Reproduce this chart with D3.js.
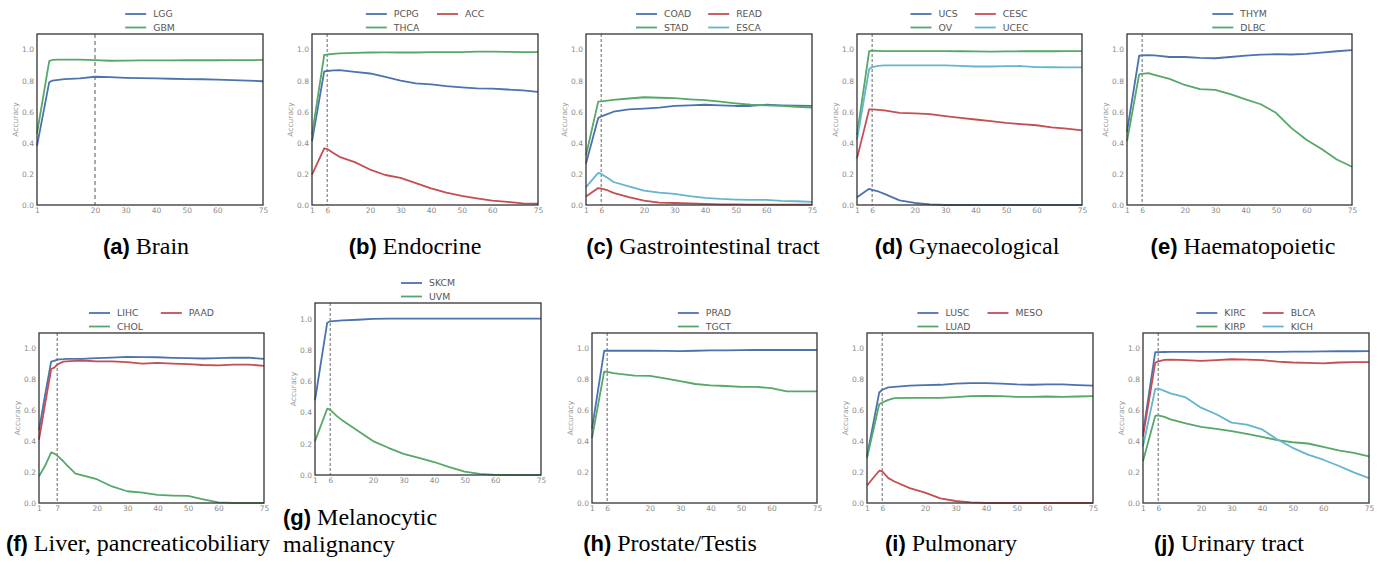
<!DOCTYPE html>
<html>
<head>
<meta charset="utf-8">
<script src="https://cdn.jsdelivr.net/npm/d3@7"></script>
<style>
  body { margin: 0; background: #fff; }
  svg { display: block; }
</style>
</head>
<body>
<svg id="fig" width="1385" height="564"></svg>
<script>
// Number of retained components k at which accuracy was evaluated
const kSteps = [1, 5, 6, 8, 10, 15, 20, 25, 30, 35, 40, 45, 50, 55, 60, 65, 70, 75];
const kLiver = [1, 3, 5, 6, 7, 9, 10, 13, 15, 20, 25, 30, 35, 40, 45, 50, 55, 60, 65, 70, 75];

const yTicks = [0, 0.2, 0.4, 0.6, 0.8, 1.0];
const xTicksBase = [1, 20, 30, 40, 50, 60, 75];

// (a) Brain
const LGG  = [0.38, 0.79, 0.80, 0.805, 0.81, 0.815, 0.825, 0.822, 0.818, 0.816, 0.814, 0.812, 0.81, 0.809, 0.807, 0.803, 0.80, 0.796];
const GBM  = [0.46, 0.925, 0.933, 0.935, 0.935, 0.935, 0.932, 0.928, 0.929, 0.93, 0.93, 0.93, 0.931, 0.931, 0.931, 0.932, 0.932, 0.933];
// (b) Endocrine
const PCPG = [0.41, 0.86, 0.862, 0.866, 0.867, 0.857, 0.846, 0.824, 0.80, 0.783, 0.776, 0.765, 0.757, 0.75, 0.748, 0.743, 0.737, 0.728];
const THCA = [0.45, 0.965, 0.968, 0.972, 0.975, 0.978, 0.981, 0.982, 0.981, 0.981, 0.983, 0.984, 0.984, 0.986, 0.987, 0.985, 0.984, 0.983];
const ACC  = [0.196, 0.365, 0.36, 0.335, 0.31, 0.276, 0.228, 0.193, 0.174, 0.141, 0.107, 0.08, 0.059, 0.043, 0.028, 0.02, 0.01, 0.009];
// (c) Gastrointestinal tract
const COAD = [0.267, 0.56, 0.57, 0.585, 0.6, 0.615, 0.62, 0.626, 0.637, 0.641, 0.645, 0.641, 0.637, 0.637, 0.645, 0.641, 0.639, 0.637];
const STAD = [0.32, 0.665, 0.667, 0.672, 0.676, 0.685, 0.693, 0.69, 0.687, 0.68, 0.674, 0.665, 0.654, 0.645, 0.641, 0.637, 0.632, 0.626];
const READ = [0.054, 0.109, 0.105, 0.095, 0.078, 0.05, 0.028, 0.015, 0.013, 0.011, 0.007, 0.004, 0.004, 0.003, 0.002, 0.002, 0.002, 0.002];
const ESCA = [0.115, 0.207, 0.2, 0.175, 0.148, 0.12, 0.093, 0.08, 0.072, 0.057, 0.046, 0.039, 0.035, 0.033, 0.033, 0.026, 0.024, 0.02];
// (d) Gynaecological
const UCS  = [0.05, 0.104, 0.098, 0.087, 0.072, 0.03, 0.013, 0.004, 0, 0, 0, 0, 0, 0, 0, 0, 0, 0];
const OV   = [0.45, 0.99, 0.993, 0.992, 0.99, 0.99, 0.99, 0.99, 0.99, 0.989, 0.988, 0.987, 0.988, 0.989, 0.989, 0.989, 0.99, 0.99];
const CESC = [0.30, 0.615, 0.615, 0.612, 0.609, 0.593, 0.589, 0.585, 0.572, 0.561, 0.55, 0.539, 0.528, 0.52, 0.513, 0.5, 0.491, 0.48];
const UCEC = [0.42, 0.875, 0.887, 0.895, 0.898, 0.898, 0.898, 0.898, 0.898, 0.895, 0.891, 0.891, 0.893, 0.894, 0.887, 0.886, 0.885, 0.885];
// (e) Haematopoietic
const THYM = [0.47, 0.96, 0.963, 0.964, 0.963, 0.952, 0.952, 0.946, 0.944, 0.952, 0.961, 0.967, 0.97, 0.968, 0.972, 0.98, 0.989, 0.996];
const DLBC = [0.41, 0.84, 0.843, 0.848, 0.837, 0.811, 0.772, 0.746, 0.741, 0.713, 0.68, 0.648, 0.593, 0.496, 0.42, 0.36, 0.293, 0.246];
// (f) Liver, pancreaticobiliary
const LIHC = [0.47, 0.70, 0.915, 0.92, 0.928, 0.931, 0.933, 0.933, 0.933, 0.937, 0.941, 0.946, 0.944, 0.943, 0.939, 0.937, 0.935, 0.937, 0.941, 0.94, 0.933];
const CHOL = [0.172, 0.241, 0.328, 0.32, 0.307, 0.27, 0.248, 0.19, 0.18, 0.154, 0.107, 0.076, 0.067, 0.052, 0.048, 0.046, 0.024, 0.004, 0, 0, 0];
const PAAD = [0.41, 0.64, 0.867, 0.876, 0.896, 0.915, 0.917, 0.92, 0.922, 0.917, 0.917, 0.911, 0.902, 0.907, 0.902, 0.898, 0.893, 0.891, 0.896, 0.896, 0.887];
// (g) Melanocytic malignancy
const SKCM = [0.478, 0.974, 0.983, 0.986, 0.989, 0.993, 0.998, 1, 1, 1, 1, 1, 1, 1, 1, 1, 1, 1];
const UVM  = [0.217, 0.424, 0.417, 0.38, 0.348, 0.283, 0.217, 0.174, 0.135, 0.109, 0.083, 0.05, 0.022, 0.007, 0.001, 0, 0, 0];
// (h) Prostate/Testis
const PRAD = [0.48, 0.985, 0.985, 0.985, 0.985, 0.985, 0.985, 0.984, 0.983, 0.985, 0.987, 0.988, 0.989, 0.99, 0.99, 0.99, 0.99, 0.99];
const TGCT = [0.42, 0.85, 0.848, 0.841, 0.835, 0.824, 0.822, 0.807, 0.789, 0.77, 0.761, 0.757, 0.752, 0.752, 0.743, 0.722, 0.722, 0.722];
// (i) Pulmonary
const LUSC = [0.302, 0.715, 0.733, 0.748, 0.752, 0.759, 0.763, 0.765, 0.772, 0.776, 0.776, 0.772, 0.767, 0.765, 0.767, 0.767, 0.763, 0.759];
const LUAD = [0.291, 0.639, 0.65, 0.667, 0.678, 0.68, 0.68, 0.68, 0.685, 0.691, 0.693, 0.691, 0.687, 0.687, 0.689, 0.687, 0.689, 0.691];
const MESO = [0.113, 0.209, 0.204, 0.161, 0.139, 0.096, 0.067, 0.03, 0.013, 0.004, 0, 0, 0, 0, 0, 0, 0, 0];
// (j) Urinary tract
const KIRC = [0.45, 0.976, 0.976, 0.977, 0.978, 0.978, 0.978, 0.978, 0.978, 0.978, 0.978, 0.978, 0.979, 0.98, 0.981, 0.982, 0.982, 0.983];
const KIRP = [0.27, 0.563, 0.567, 0.557, 0.541, 0.515, 0.493, 0.48, 0.465, 0.448, 0.428, 0.407, 0.393, 0.385, 0.363, 0.341, 0.324, 0.302];
const BLCA = [0.43, 0.907, 0.917, 0.926, 0.928, 0.924, 0.92, 0.924, 0.93, 0.928, 0.924, 0.915, 0.909, 0.907, 0.904, 0.909, 0.911, 0.911];
const KICH = [0.367, 0.737, 0.741, 0.726, 0.709, 0.683, 0.617, 0.574, 0.52, 0.507, 0.476, 0.411, 0.357, 0.313, 0.28, 0.241, 0.198, 0.161];

const colors = { blue: "#4c72b0", green: "#55a868", red: "#c44e52", cyan: "#64b5cd" };

// Panel layout: plot box [left, top, width, height], caption placement
const panels = [
  { tag: "(a)", title: ["Brain"], k: kSteps, best: 20, box: [37, 34, 226, 171], cap: { x: 146, y: 254, anchor: "middle" },
    series: [["LGG", LGG, "blue"], ["GBM", GBM, "green"]], ncol: 1, marker: "dark" },
  { tag: "(b)", title: ["Endocrine"], k: kSteps, best: 6, box: [312, 34, 226, 171], cap: { x: 415, y: 254, anchor: "middle" },
    series: [["PCPG", PCPG, "blue"], ["THCA", THCA, "green"], ["ACC", ACC, "red"]], ncol: 2 },
  { tag: "(c)", title: ["Gastrointestinal tract"], k: kSteps, best: 6, box: [586, 34, 226, 171], cap: { x: 703, y: 254, anchor: "middle" },
    series: [["COAD", COAD, "blue"], ["STAD", STAD, "green"], ["READ", READ, "red"], ["ESCA", ESCA, "cyan"]], ncol: 2 },
  { tag: "(d)", title: ["Gynaecological"], k: kSteps, best: 6, box: [857, 34, 225, 171], cap: { x: 967, y: 254, anchor: "middle" },
    series: [["UCS", UCS, "blue"], ["OV", OV, "green"], ["CESC", CESC, "red"], ["UCEC", UCEC, "cyan"]], ncol: 2 },
  { tag: "(e)", title: ["Haematopoietic"], k: kSteps, best: 6, box: [1127, 34, 225, 171], cap: { x: 1243, y: 254, anchor: "middle" },
    series: [["THYM", THYM, "blue"], ["DLBC", DLBC, "green"]], ncol: 1 },
  { tag: "(f)", title: ["Liver, pancreaticobiliary"], k: kLiver, best: 7, box: [39, 333, 225, 170], cap: { x: 138, y: 551, anchor: "middle" },
    series: [["LIHC", LIHC, "blue"], ["CHOL", CHOL, "green"], ["PAAD", PAAD, "red"]], ncol: 2 },
  { tag: "(g)", title: ["Melanocytic", "malignancy"], k: kSteps, best: 6, box: [315, 303, 226, 172], cap: { x: 283, y: 525, anchor: "start" },
    series: [["SKCM", SKCM, "blue"], ["UVM", UVM, "green"]], ncol: 1 },
  { tag: "(h)", title: ["Prostate/Testis"], k: kSteps, best: 6, box: [592, 333, 225, 170], cap: { x: 670, y: 551, anchor: "middle" },
    series: [["PRAD", PRAD, "blue"], ["TGCT", TGCT, "green"]], ncol: 1 },
  { tag: "(i)", title: ["Pulmonary"], k: kSteps, best: 6, box: [867, 333, 226, 170], cap: { x: 951, y: 551, anchor: "middle" },
    series: [["LUSC", LUSC, "blue"], ["LUAD", LUAD, "green"], ["MESO", MESO, "red"]], ncol: 2 },
  { tag: "(j)", title: ["Urinary tract"], k: kSteps, best: 6, box: [1143, 333, 226, 170], cap: { x: 1229, y: 551, anchor: "middle" },
    series: [["KIRC", KIRC, "blue"], ["KIRP", KIRP, "green"], ["BLCA", BLCA, "red"], ["KICH", KICH, "cyan"]], ncol: 2 }
];

const svg = d3.select("#fig");
const AXIS_FONT = "'DejaVu Sans', sans-serif";

panels.forEach(p => {
  const [left, top, w, h] = p.box;
  const g = svg.append("g").attr("transform", `translate(${left},${top})`);

  const x = d3.scaleLinear().domain([1, 75]).range([0, w]);
  const y = d3.scaleLinear().domain([0, 1.1]).range([h, 0]);

  // axes (labels only, no tick marks)
  const xTicks = Array.from(new Set([...xTicksBase, p.best])).sort((a, b) => a - b);
  const yAxis = g.append("g")
    .call(d3.axisLeft(y).tickValues(yTicks).tickFormat(d3.format(".1f")).tickSize(0).tickPadding(3));
  const xAxis = g.append("g").attr("transform", `translate(0,${h})`)
    .call(d3.axisBottom(x).tickValues(xTicks).tickFormat(d3.format("d")).tickSize(0).tickPadding(3));
  [xAxis, yAxis].forEach(a => {
    a.select(".domain").remove();
    a.selectAll("text").attr("font-family", AXIS_FONT).attr("font-size", 7.5).attr("fill", "#8a8a8a");
  });

  // y axis title
  g.append("text")
    .attr("transform", `translate(-19.5,${h / 2}) rotate(-90)`)
    .attr("text-anchor", "middle")
    .attr("font-family", AXIS_FONT).attr("font-size", 7.5).attr("fill", "#9a9a9a")
    .text("Accuracy");

  // chosen k marker
  const dark = p.marker === "dark";
  g.append("line")
    .attr("x1", x(p.best)).attr("x2", x(p.best))
    .attr("y1", 0).attr("y2", h)
    .attr("stroke", dark ? "#555" : "#999")
    .attr("stroke-width", dark ? 1 : 1.5)
    .attr("stroke-dasharray", dark ? "4,3" : "3,2");

  // accuracy curves
  const line = d3.line().x((d, i) => x(p.k[i])).y(d => y(d));
  p.series.forEach(([name, vals, c]) => {
    g.append("path")
      .datum(vals)
      .attr("d", line)
      .attr("fill", "none")
      .attr("stroke", colors[c])
      .attr("stroke-width", 1.8)
      .attr("stroke-linejoin", "round");
  });

  // frame
  g.append("rect").attr("x", 0).attr("y", 0).attr("width", w).attr("height", h)
    .attr("fill", "none").attr("stroke", "#333").attr("stroke-width", 1.3);

  // legend above the plot, filled column by column
  const lg = svg.append("g");
  const rows = Math.ceil(p.series.length / p.ncol);
  const rowY = [top - 20, top - 6.5];
  const cols = [];
  p.series.forEach((s, i) => {
    const ci = Math.floor(i / rows), ri = i % rows;
    (cols[ci] = cols[ci] || []).push({ s, ri });
  });
  const colGroups = cols.map(items => {
    const cg = lg.append("g");
    items.forEach(({ s, ri }) => {
      cg.append("line").attr("x1", 0).attr("x2", 21).attr("y1", rowY[ri]).attr("y2", rowY[ri])
        .attr("stroke", colors[s[2]]).attr("stroke-width", 1.8);
      cg.append("text").attr("x", 28).attr("y", rowY[ri] + 3.3)
        .attr("font-family", AXIS_FONT).attr("font-size", 9.3).attr("fill", "#555")
        .text(s[0]);
    });
    return cg;
  });
  let off = 0;
  const widths = colGroups.map(cg => cg.node().getBBox().width);
  colGroups.forEach((cg, i) => { cg.attr("transform", `translate(${off},0)`); off += widths[i] + 17; });
  const total = off - 17;
  lg.attr("transform", `translate(${left + w / 2 - total / 2},0)`);

  // caption
  const cap = svg.append("text")
    .attr("x", p.cap.x).attr("y", p.cap.y)
    .attr("text-anchor", p.cap.anchor).attr("fill", "#000");
  cap.append("tspan").attr("font-family", "'Liberation Sans', Arial, sans-serif")
    .attr("font-weight", "bold").attr("font-size", 22).text(p.tag);
  cap.append("tspan").attr("font-family", "'Liberation Serif', 'Times New Roman', serif")
    .attr("font-size", 24).attr("dx", 6).text(p.title[0]);
  if (p.title.length > 1) {
    svg.append("text").attr("x", p.cap.x).attr("y", p.cap.y + 27)
      .attr("font-family", "'Liberation Serif', 'Times New Roman', serif")
      .attr("font-size", 24).attr("fill", "#000").text(p.title[1]);
  }
});
</script>
</body>
</html>
